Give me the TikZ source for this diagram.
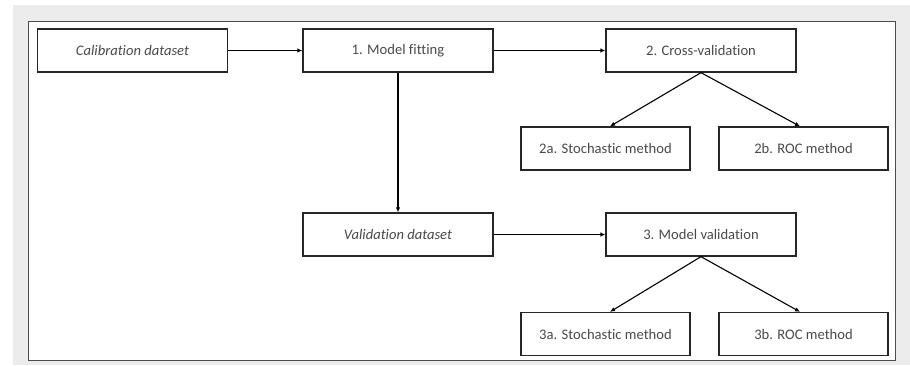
\documentclass[tikz,border=0pt]{standalone}
\usepackage{fontspec}
\setmainfont{Carlito}[Ligatures=NoCommon]
\usetikzlibrary{arrows.meta}
\definecolor{framegray}{HTML}{ECECEC}
\definecolor{textgray}{HTML}{4A4A4A}
\tikzset{
    stagebox/.style={draw=black!85, line width=1.3pt, minimum width=190pt, minimum height=43pt,
        inner sep=0pt, text=textgray, font=\fontsize{14.6}{16}\selectfont},
    methodbox/.style={stagebox, minimum width=169pt},
    flow/.style={-{Latex[length=5pt,width=4.5pt]}, line width=1.1pt}
}
\begin{document}
\begin{tikzpicture}[x=1pt,y=-1pt]
    \useasboundingbox (0,0) rectangle (910,365);
    % Frame
    \fill[framegray] (13,5) rectangle (910,365);
    \filldraw[fill=white, draw=black!70, line width=0.8pt] (28,21) rectangle (895,360);

    % Top row
    \node[stagebox] (calib) at (132.5,50.5) {\itshape Calibration dataset};
    \node[stagebox] (fit) at (398,50.5) {1. Model fitting};
    \node[stagebox] (cross) at (701,50.5) {2. Cross-validation};

    % Cross-validation methods
    \node[methodbox] (stoch2) at (605.5,148.5) {2a. Stochastic method};
    \node[methodbox] (roc2) at (803.5,148.5) {2b. ROC method};

    % Validation row
    \node[stagebox] (valid) at (398,234.5) {\itshape Validation dataset};
    \node[stagebox] (modval) at (701,234.5) {3. Model validation};

    % Model validation methods
    \node[methodbox] (stoch3) at (605.5,334) {3a. Stochastic method};
    \node[methodbox] (roc3) at (803.5,334) {3b. ROC method};

    % Arrows
    \draw[flow] (calib) -- (fit);
    \draw[flow] (fit) -- (cross);
    \draw[flow] (fit) -- (valid);
    \draw[flow] (valid) -- (modval);
    \draw[flow] (cross.south) -- (stoch2.north -| 610,0);
    \draw[flow] (cross.south) -- (roc2.north -| 800,0);
    \draw[flow] (modval.south) -- (stoch3.north -| 610,0);
    \draw[flow] (modval.south) -- (roc3.north -| 800,0);

\end{tikzpicture}
\end{document}
